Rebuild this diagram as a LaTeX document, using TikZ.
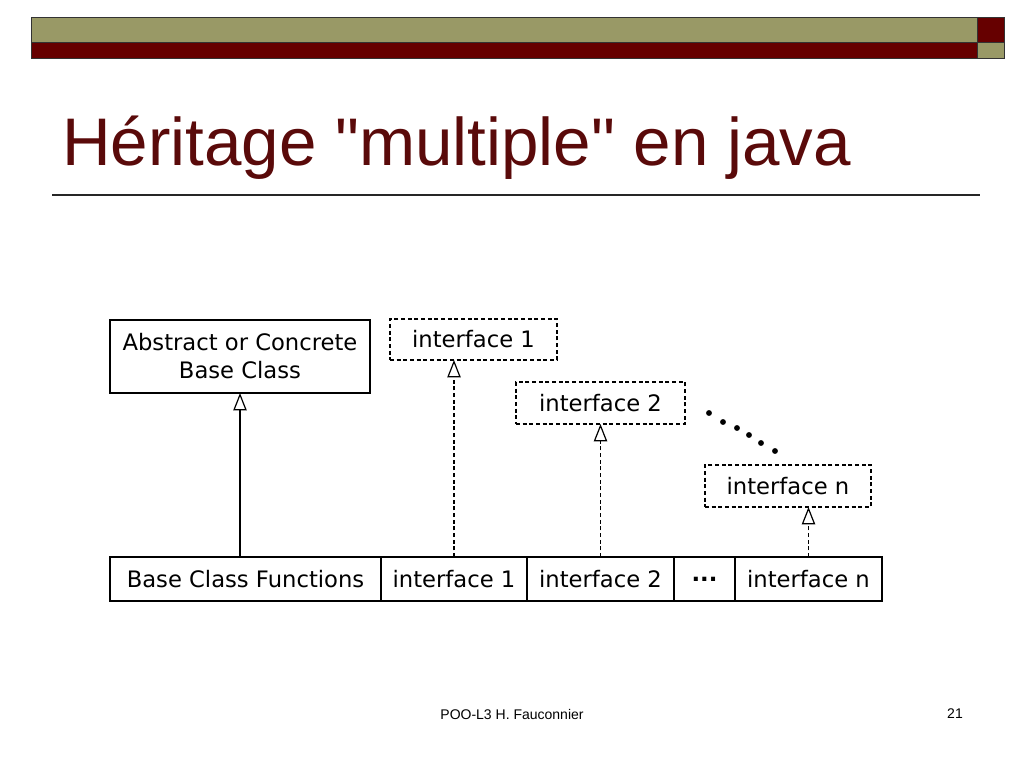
\documentclass[tikz,border=0pt]{standalone}
\usepackage{fontspec}
\setmainfont{DejaVu Sans}
\newfontfamily\titlefont{Liberation Sans}
\usetikzlibrary{arrows.meta}
\definecolor{olive}{HTML}{999966}
\definecolor{darkred}{HTML}{660000}
\definecolor{titlered}{HTML}{5A0A0A}
\tikzset{
  bar/.style={draw=black!80, line width=0.75pt},
  diafont/.style={font=\fontsize{17}{21}\selectfont},
  solidbox/.style={draw=black, line width=0.9pt, diafont, align=center, inner sep=0pt, outer sep=0pt},
  ifacebox/.style={draw=black, line width=0.9pt, dash pattern=on 3pt off 2pt, diafont, inner sep=0pt, outer sep=0pt},
  cell/.style={draw=black, line width=0.9pt, diafont, inner sep=0pt, outer sep=0pt, minimum height=33pt},
  inherit/.style={line width=0.9pt, -{Triangle[open, width=10pt, length=13pt, line width=0.9pt]}},
  implement/.style={inherit, dash pattern=on 3pt off 2pt},
}
\begin{document}
\begin{tikzpicture}[x=0.75pt, y=-0.75pt]
\useasboundingbox (0,0) rectangle (1024,768);
% header bars
\fill[olive] (31,17) rectangle (977,42);
\fill[darkred] (31,42) rectangle (977,58);
\fill[darkred] (977,17) rectangle (1004,42);
\fill[olive] (977,42) rectangle (1004,58);
\draw[bar] (31,17) rectangle (977,42);
\draw[bar] (31,42) rectangle (977,58);
\draw[bar] (977,17) rectangle (1004,42);
\draw[bar] (977,42) rectangle (1004,58);
% title
\node[anchor=base west, inner sep=0pt, text=titlered, font=\titlefont\fontsize{50.5}{60}\selectfont] (title) at (62,165) {Héritage "multiple" en java};
\draw[line width=0.9pt, black!85] (52,195) -- (980,195);
% top boxes
\node[solidbox, minimum width=195pt, minimum height=54.75pt] (base) at (240,356.5) {Abstract or Concrete\\Base Class};
\node[ifacebox, minimum width=125.25pt, minimum height=30.75pt] (i1) at (473.5,339.5) {interface 1};
\node[ifacebox, minimum width=126.75pt, minimum height=31.5pt] (i2) at (600.5,403) {interface 2};
\node[ifacebox, minimum width=124.5pt, minimum height=31.5pt] (in) at (788,486) {interface n};
% dots
\foreach \x/\y in {709/413,723/422,737/428,749/435,761/443,775/451} \fill (\x,\y) circle (2.2pt);
% bottom row
\node[cell, minimum width=203.25pt] (c1) at (245.5,579) {Base Class Functions};
\node[cell, minimum width=109.5pt] (c2) at (454,579) {interface 1};
\node[cell, minimum width=110.25pt] (c3) at (600.5,579) {interface 2};
\node[cell, minimum width=45.75pt, font=\fontsize{17}{21}\selectfont\bfseries] (c4) at (704.5,579) {...};
\node[cell, minimum width=110.25pt] (c5) at (808.5,579) {interface n};
% arrows
\draw[inherit] (c1.north -| base.south) -- (base.south);
\draw[implement] (c2.north) -- (c2.north |- i1.south);
\draw[implement] (c3.north) -- (c3.north |- i2.south);
\draw[implement] (c5.north) -- (c5.north |- in.south);
% footer
\node[font=\titlefont\fontsize{10.5}{12}\selectfont] (foot) at (512,714) {POO-L3 H. Fauconnier};
\node[font=\titlefont\fontsize{10.5}{12}\selectfont] (page) at (955,714) {21};
\end{tikzpicture}
\end{document}
